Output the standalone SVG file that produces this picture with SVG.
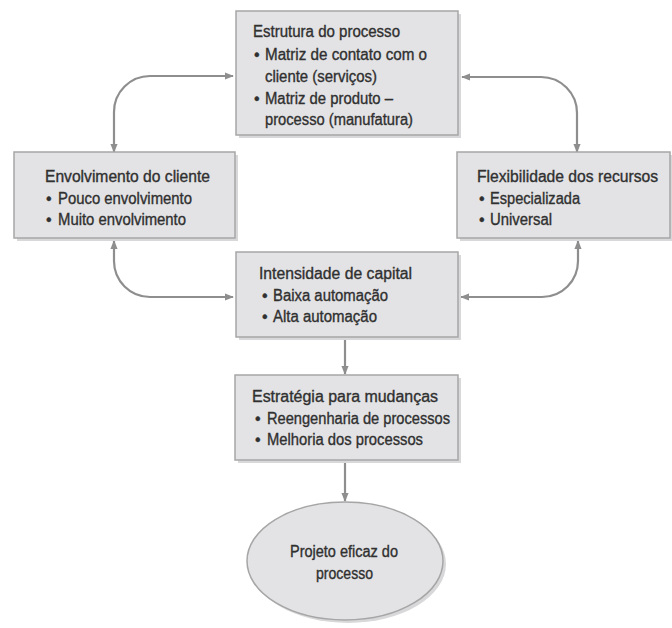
<svg xmlns="http://www.w3.org/2000/svg" width="672" height="628" viewBox="0 0 672 628">
<defs>
<style>
.box{fill:#e3e3e5;stroke:#a6a6a6;stroke-width:1.5}
.sh{fill:#d8d8da}
.t{font-family:"Liberation Sans",Arial,sans-serif;font-size:16px;fill:#303030;stroke:#303030;stroke-width:0.35}
.c{fill:none;stroke:#8e8e8e;stroke-width:2.2}
</style>
<marker id="ah" viewBox="0 0 10 10" refX="9" refY="5" markerWidth="9" markerHeight="9" markerUnits="userSpaceOnUse" orient="auto-start-reverse">
<path d="M0 1 L10 5 L0 9 Z" fill="#8e8e8e"/>
</marker>
</defs>
<rect width="672" height="628" fill="#ffffff"/>
<g id="connectors">
<path class="c" d="M114 152 L114 112 A36 36 0 0 1 150 76 L233 76" marker-start="url(#ah)" marker-end="url(#ah)"/>
<path class="c" d="M462 77 L541 77 A36 36 0 0 1 577 113 L577 152" marker-start="url(#ah)" marker-end="url(#ah)"/>
<path class="c" d="M114 241 L114 261 A36 36 0 0 0 150 297 L233 297" marker-start="url(#ah)" marker-end="url(#ah)"/>
<path class="c" d="M461 297 L542 297 A36 36 0 0 0 578 261 L578 241" marker-start="url(#ah)" marker-end="url(#ah)"/>
<path class="c" d="M345 337 L345 374" marker-end="url(#ah)"/>
<path class="c" d="M345 460 L345 501" marker-end="url(#ah)"/>
</g>
<g id="estrutura">
<rect class="sh" x="239" y="14" width="222" height="124"/>
<rect class="box" x="236" y="11" width="222" height="124"/>
<text class="t" x="253" y="37" textLength="147" lengthAdjust="spacingAndGlyphs">Estrutura do processo</text>
<text class="t" x="254" y="60">•</text>
<text class="t" x="265" y="60" textLength="162" lengthAdjust="spacingAndGlyphs">Matriz de contato com o</text>
<text class="t" x="265" y="82" textLength="112" lengthAdjust="spacingAndGlyphs">cliente (serviços)</text>
<text class="t" x="254" y="104">•</text>
<text class="t" x="265" y="104" textLength="128" lengthAdjust="spacingAndGlyphs">Matriz de produto –</text>
<text class="t" x="265" y="125" textLength="148" lengthAdjust="spacingAndGlyphs">processo (manufatura)</text>
</g>
<g id="envolvimento">
<rect class="sh" x="17" y="155" width="221" height="86"/>
<rect class="box" x="14" y="152" width="221" height="86"/>
<text class="t" x="45" y="182" textLength="165" lengthAdjust="spacingAndGlyphs">Envolvimento do cliente</text>
<text class="t" x="46" y="204">•</text>
<text class="t" x="58" y="204" textLength="134" lengthAdjust="spacingAndGlyphs">Pouco envolvimento</text>
<text class="t" x="46" y="225">•</text>
<text class="t" x="58" y="225" textLength="128" lengthAdjust="spacingAndGlyphs">Muito envolvimento</text>
</g>
<g id="flexibilidade">
<rect class="sh" x="460" y="155" width="212" height="86"/>
<rect class="box" x="457" y="152" width="213" height="86"/>
<text class="t" x="477" y="182" textLength="181" lengthAdjust="spacingAndGlyphs">Flexibilidade dos recursos</text>
<text class="t" x="479" y="204">•</text>
<text class="t" x="490" y="204" textLength="90" lengthAdjust="spacingAndGlyphs">Especializada</text>
<text class="t" x="479" y="225">•</text>
<text class="t" x="490" y="225" textLength="62" lengthAdjust="spacingAndGlyphs">Universal</text>
</g>
<g id="intensidade">
<rect class="sh" x="239" y="255" width="222" height="85"/>
<rect class="box" x="236" y="252" width="222" height="85"/>
<text class="t" x="259" y="279" textLength="153" lengthAdjust="spacingAndGlyphs">Intensidade de capital</text>
<text class="t" x="262" y="301">•</text>
<text class="t" x="273" y="301" textLength="115" lengthAdjust="spacingAndGlyphs">Baixa automação</text>
<text class="t" x="262" y="322">•</text>
<text class="t" x="273" y="322" textLength="104" lengthAdjust="spacingAndGlyphs">Alta automação</text>
</g>
<g id="estrategia">
<rect class="sh" x="238" y="378" width="223" height="85"/>
<rect class="box" x="235" y="375" width="223" height="85"/>
<text class="t" x="252" y="402" textLength="186" lengthAdjust="spacingAndGlyphs">Estratégia para mudanças</text>
<text class="t" x="255" y="424">•</text>
<text class="t" x="267" y="424" textLength="183" lengthAdjust="spacingAndGlyphs">Reengenharia de processos</text>
<text class="t" x="255" y="445">•</text>
<text class="t" x="267" y="445" textLength="156" lengthAdjust="spacingAndGlyphs">Melhoria dos processos</text>
</g>
<g id="projeto">
<ellipse cx="348" cy="564" rx="98" ry="59" fill="#d8d8da"/>
<ellipse cx="345" cy="561" rx="98" ry="59" fill="#e3e3e5" stroke="#a6a6a6" stroke-width="1.5"/>
<text class="t" x="290" y="557" textLength="108" lengthAdjust="spacingAndGlyphs">Projeto eficaz do</text>
<text class="t" x="316" y="579" textLength="57" lengthAdjust="spacingAndGlyphs">processo</text>
</g>
</svg>
